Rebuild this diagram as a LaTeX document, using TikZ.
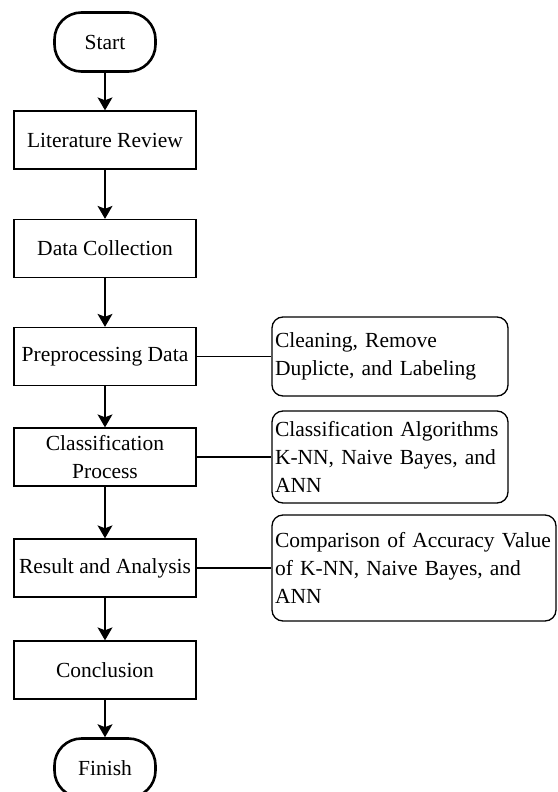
\documentclass[tikz,border=0pt]{standalone}
\usepackage{fontspec}
\setmainfont{Liberation Serif}
\usetikzlibrary{arrows.meta}
\begin{document}
\begin{tikzpicture}[x=1pt,y=-1pt,
  txt/.style={font=\fontsize{21.5}{28}\selectfont},
  proc/.style={txt, draw, line width=1.3pt, minimum width=182pt, minimum height=58pt, inner sep=2pt, align=center},
  term/.style={txt, draw, line width=2.6pt, rounded corners=27pt, minimum width=101pt, minimum height=59pt, inner sep=2pt},
  note/.style={txt, draw, line width=1.3pt, rounded corners=11pt, align=left, inner xsep=3pt, inner ysep=4pt},
  flow/.style={line width=1.3pt, -{Stealth[length=13pt,width=15pt,inset=3pt]}},
  link/.style={line width=1.3pt}]
\useasboundingbox (0,0) rectangle (557,792);

\node[term] (start) at (105,42) {Start};
\node[proc] (lit) at (105,140) {Literature Review};
\node[proc] (dc) at (105,248.5) {Data Collection};
\node[proc] (pre) at (105,356.5) {Preprocessing Data};
\node[proc] (cls) at (105,457) {Classification\\Process};
\node[proc] (res) at (105,568) {Result and Analysis};
\node[proc] (con) at (105,670) {Conclusion};
\node[term] (fin) at (105,768) {Finish};

\node[note, text width=230pt, minimum height=79pt] (n1) at (390,356.5) {Cleaning, Remove\\Duplicte, and Labeling};
\node[note, text width=230pt, minimum height=92pt] (n2) at (390,457) {Classification Algorithms\\K-NN, Naive Bayes, and\\ANN};
\node[note, text width=278pt, minimum height=106pt] (n3) at (414,568) {Comparison of Accuracy Value\\of K-NN, Naive Bayes, and\\ANN};

\draw[flow] (start) -- (lit);
\draw[flow] (lit) -- (dc);
\draw[flow] (dc) -- (pre);
\draw[flow] (pre) -- (cls);
\draw[flow] (cls) -- (res);
\draw[flow] (res) -- (con);
\draw[flow] (con) -- (fin);

\draw[link] (pre) -- (n1);
\draw[link] (cls) -- (n2);
\draw[link] (res) -- (n3);
\end{tikzpicture}
\end{document}
